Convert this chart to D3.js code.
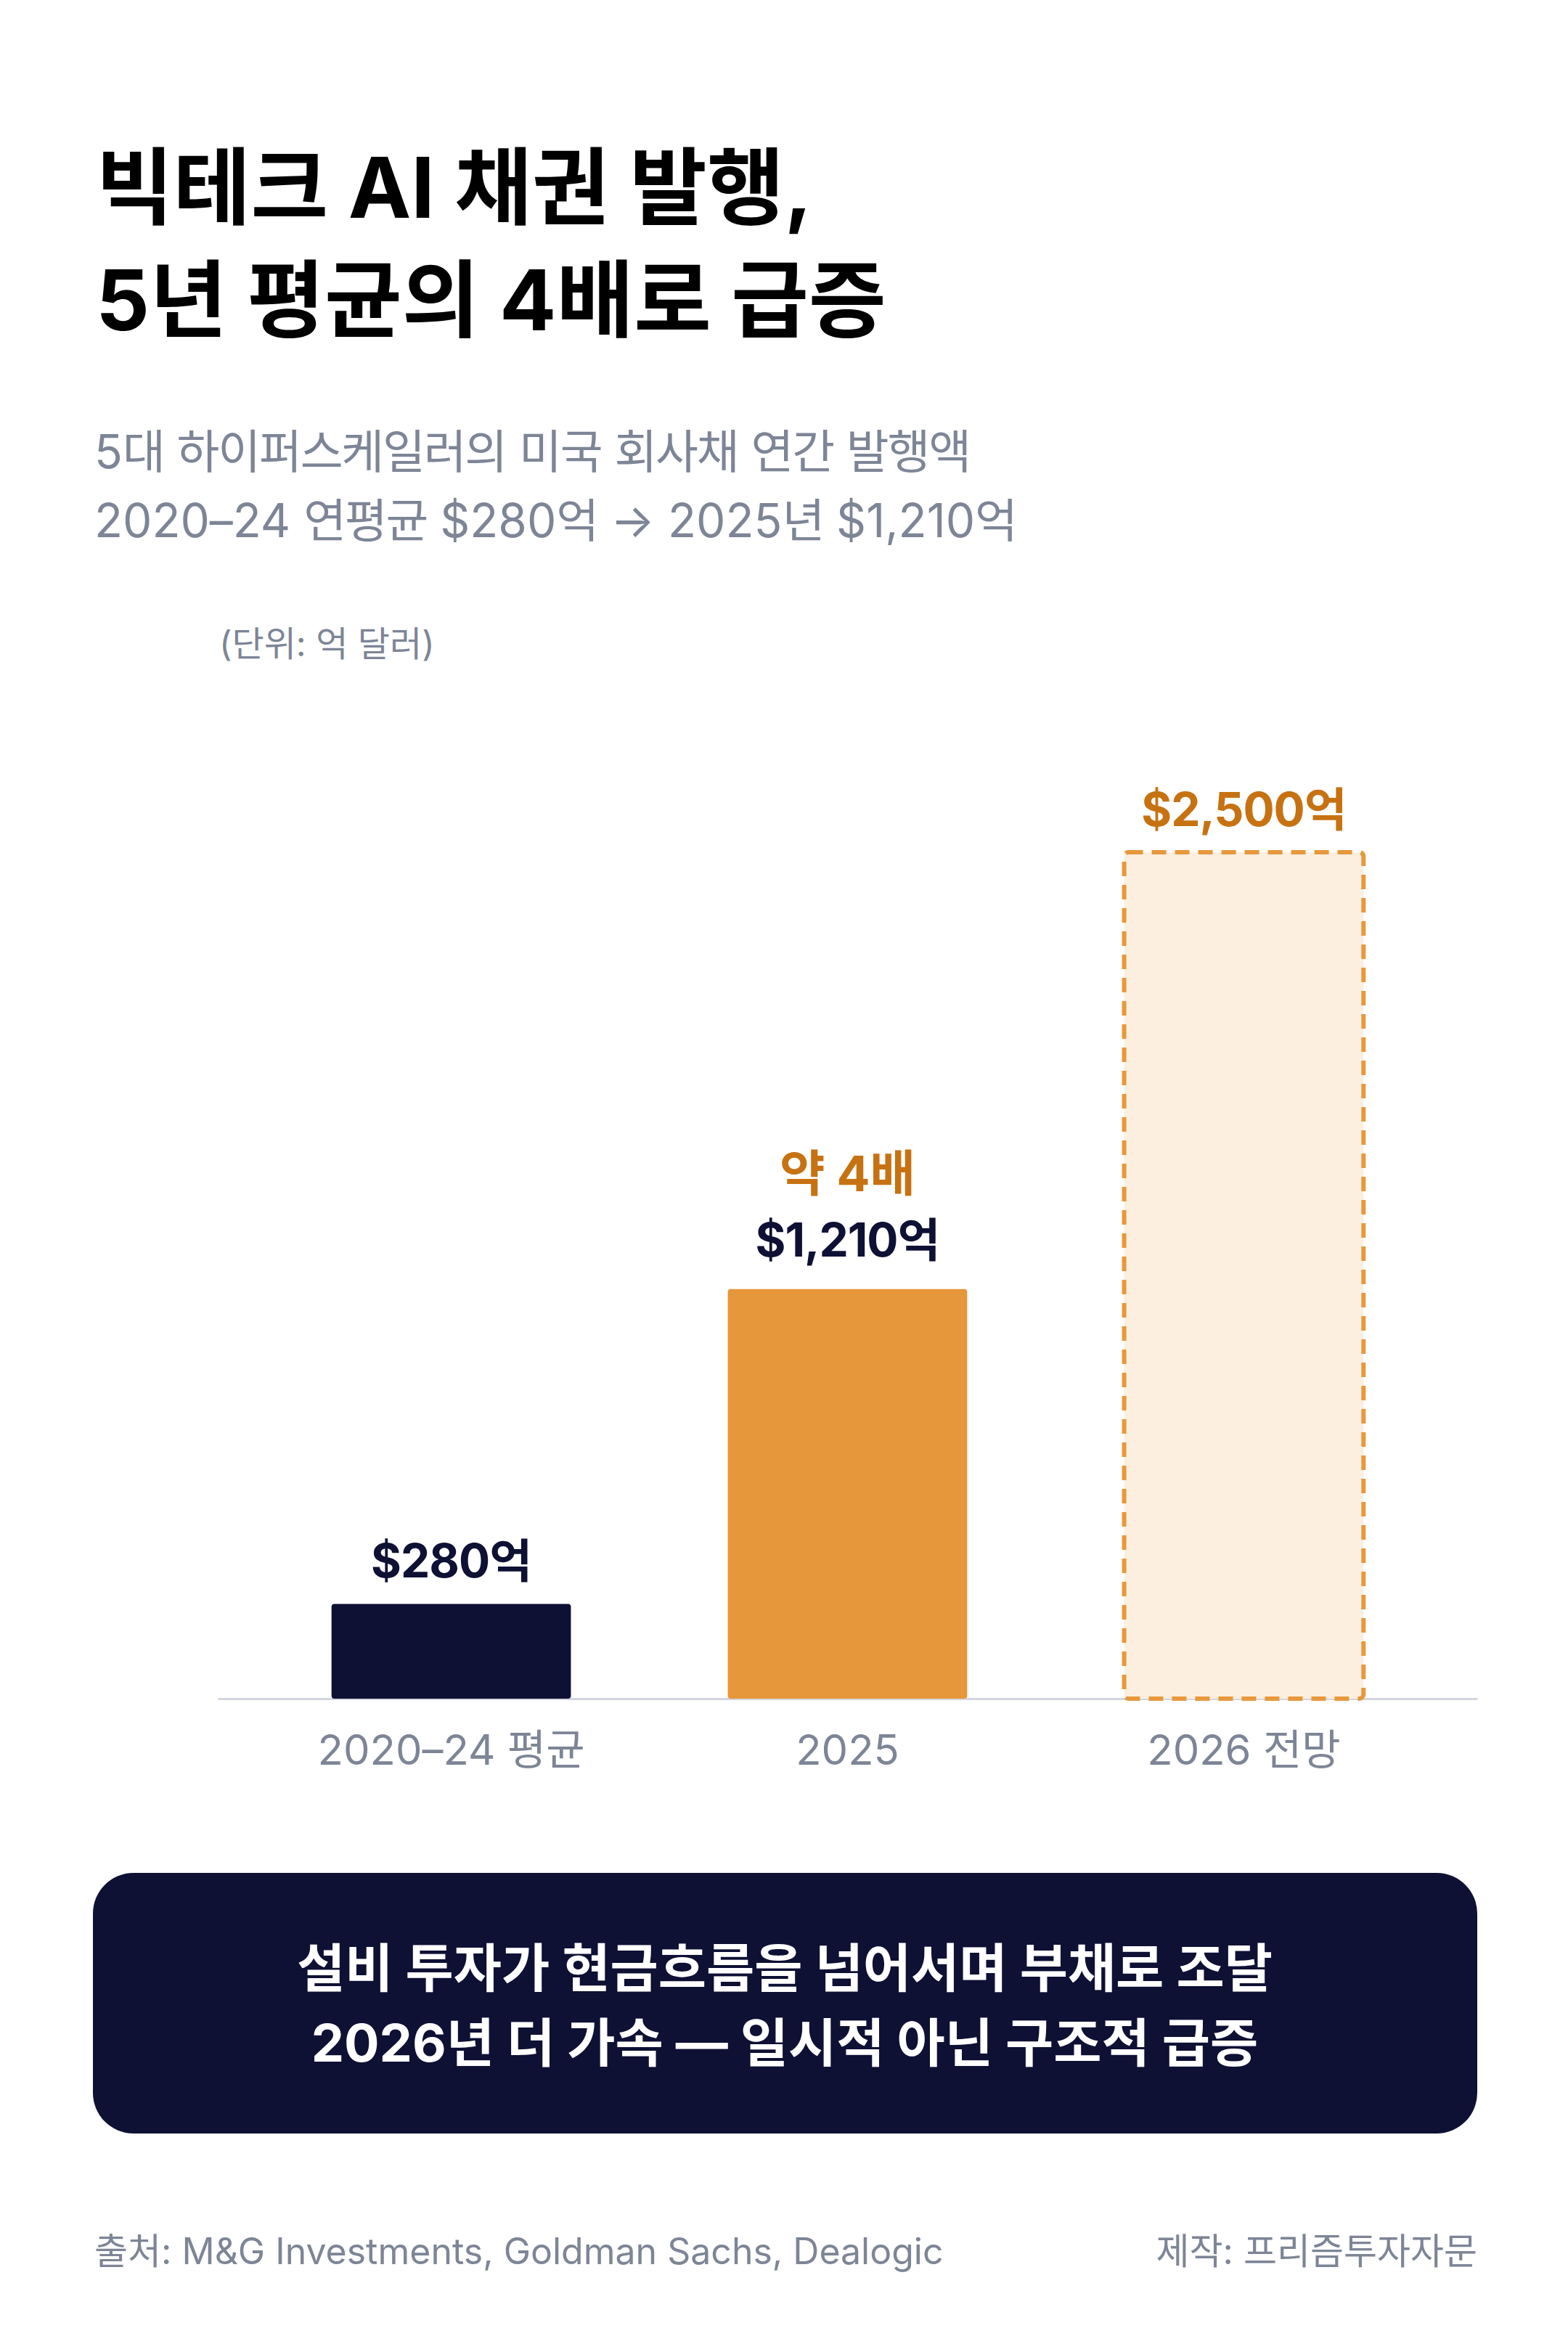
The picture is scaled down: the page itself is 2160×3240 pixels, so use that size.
<!DOCTYPE html>
<html lang="ko">
<head>
<meta charset="utf-8">
<script src="https://cdn.jsdelivr.net/npm/d3@7/dist/d3.min.js"></script>
<style>
  html, body { margin: 0; padding: 0; background: #ffffff; }
  svg { display: block; }
  text { font-family: "Inter", "Noto Sans CJK KR", sans-serif; }
</style>
</head>
<body>
<svg id="chart" width="2160" height="3240"></svg>
<script>
// ---- data ----
const categories = ["2020–24 평균", "2025", "2026 전망"];
const values = [280, 1210, 2500];
const valueLabels = ["$280억", "$1,210억", "$2,500억"];
const forecastFlags = [false, false, true];
const multiplierLabel = "약 4배";
const multiplierIndex = 1;
const titleLines = ["빅테크 AI 채권 발행,", "5년 평균의 4배로 급증"];
const subtitleLines = ["5대 하이퍼스케일러의 미국 회사채 연간 발행액", "2020–24 연평균 $280억 → 2025년 $1,210억"];
const unitLabel = "(단위: 억 달러)";
const calloutLines = ["설비 투자가 현금흐름을 넘어서며 부채로 조달", "2026년 더 가속 — 일시적 아닌 구조적 급증"];
const sourceText = "출처: M&G Investments, Goldman Sachs, Dealogic";
const creditText = "제작: 프리즘투자자문";

// ---- styles ----
const C = {
  navy: "#0e1034",
  orange: "#e6963b",
  orangeText: "#c77212",
  forecastFill: "#fcefdf",
  forecastStroke: "#e8983d",
  gray: "#7d8596",
  axis: "#d4d6df"
};
const barFill = [C.navy, C.orange, C.forecastFill];
const labelColor = [C.navy, C.navy, C.orangeText];

// split text into Hangul / other runs so Hangul can be tracked slightly tighter
function runs(sel, str, hangulLS) {
  str.split(/([\uAC00-\uD7A3]+)/).filter(s => s.length).forEach(part => {
    const t = sel.append("tspan").text(part);
    if (/[\uAC00-\uD7A3]/.test(part)) t.attr("letter-spacing", hangulLS);
  });
}

const svg = d3.select("#chart");
svg.append("rect").attr("width", 2160).attr("height", 3240).attr("fill", "#fff");

// ---- title ----
svg.append("g").selectAll("text").data(titleLines).join("text")
  .attr("x", 132).attr("y", (d, i) => 300 + i * 155)
  .attr("font-size", 116).attr("font-weight", 700)
  .attr("fill", "#000").text(d => d);

// ---- subtitle ----
svg.append("g").selectAll("text").data(subtitleLines).join("text")
  .attr("x", 130).attr("y", (d, i) => 645 + i * 95)
  .attr("font-size", 64).attr("font-weight", 400)
  .attr("fill", C.gray)
  .each(function(d) { runs(d3.select(this), d, -2.2); });

svg.append("text").attr("x", 302).attr("y", 904)
  .attr("font-size", 48).attr("fill", C.gray)
  .text(unitLabel);

// ---- chart ----
const x = d3.scaleBand().domain(categories).range([300, 2035])
  .paddingInner(0.396).paddingOuter(0.287);
const y = d3.scaleLinear().domain([0, 2500]).range([2340, 1174]);

// axis
const xAxis = d3.axisBottom(x).tickSize(0).tickPadding(0);
const ax = svg.append("g").attr("transform", `translate(0,${y(0)})`).call(xAxis);
ax.select(".domain").attr("stroke", C.axis).attr("stroke-width", 3);
ax.selectAll(".tick text")
  .attr("y", 91).attr("dy", 0)
  .attr("font-size", 58).attr("fill", C.gray)
  .attr("font-family", "Inter, 'Noto Sans CJK KR', sans-serif");

const g = svg.append("g");

// bars
g.selectAll("rect.bar").data(categories).join("rect")
  .attr("class", "bar")
  .attr("x", d => x(d))
  .attr("y", (d, i) => y(values[i]))
  .attr("width", x.bandwidth())
  .attr("height", (d, i) => y(0) - y(values[i]))
  .attr("rx", (d, i) => forecastFlags[i] ? 6 : 4)
  .attr("fill", (d, i) => barFill[i])
  .attr("stroke", (d, i) => forecastFlags[i] ? C.forecastStroke : "none")
  .attr("stroke-width", (d, i) => forecastFlags[i] ? 6 : 0)
  .attr("stroke-dasharray", (d, i) => forecastFlags[i] ? "20 12" : null);

// value labels
g.selectAll("text.val").data(categories).join("text")
  .attr("class", "val")
  .attr("x", d => x(d) + x.bandwidth() / 2)
  .attr("y", (d, i) => y(values[i]) - (i === multiplierIndex ? 45 : 36))
  .attr("text-anchor", "middle")
  .attr("font-size", 64).attr("font-weight", 700)
  .attr("letter-spacing", -1)
  .attr("fill", (d, i) => labelColor[i])
  .text((d, i) => valueLabels[i]);

// multiplier label
g.append("text")
  .attr("x", x(categories[multiplierIndex]) + x.bandwidth() / 2)
  .attr("y", y(values[multiplierIndex]) - 135)
  .attr("text-anchor", "middle")
  .attr("font-size", 68).attr("font-weight", 700)
  .attr("fill", C.orangeText)
  .text(multiplierLabel);

// ---- callout box ----
svg.append("rect").attr("x", 128).attr("y", 2580).attr("width", 1907).attr("height", 359)
  .attr("rx", 56).attr("fill", C.navy);
svg.append("g").selectAll("text").data(calloutLines).join("text")
  .attr("x", 1081).attr("y", (d, i) => 2737 + i * 103)
  .attr("text-anchor", "middle")
  .attr("font-size", 72).attr("font-weight", 700)
  .attr("fill", "#fff").text(d => d);

// ---- footer ----
svg.append("text").attr("x", 130).attr("y", 3119)
  .attr("font-size", 50).attr("fill", C.gray)
  .text(sourceText);
svg.append("text").attr("x", 2035).attr("y", 3119).attr("text-anchor", "end")
  .attr("font-size", 50).attr("fill", C.gray)
  .text(creditText);
</script>
</body>
</html>
